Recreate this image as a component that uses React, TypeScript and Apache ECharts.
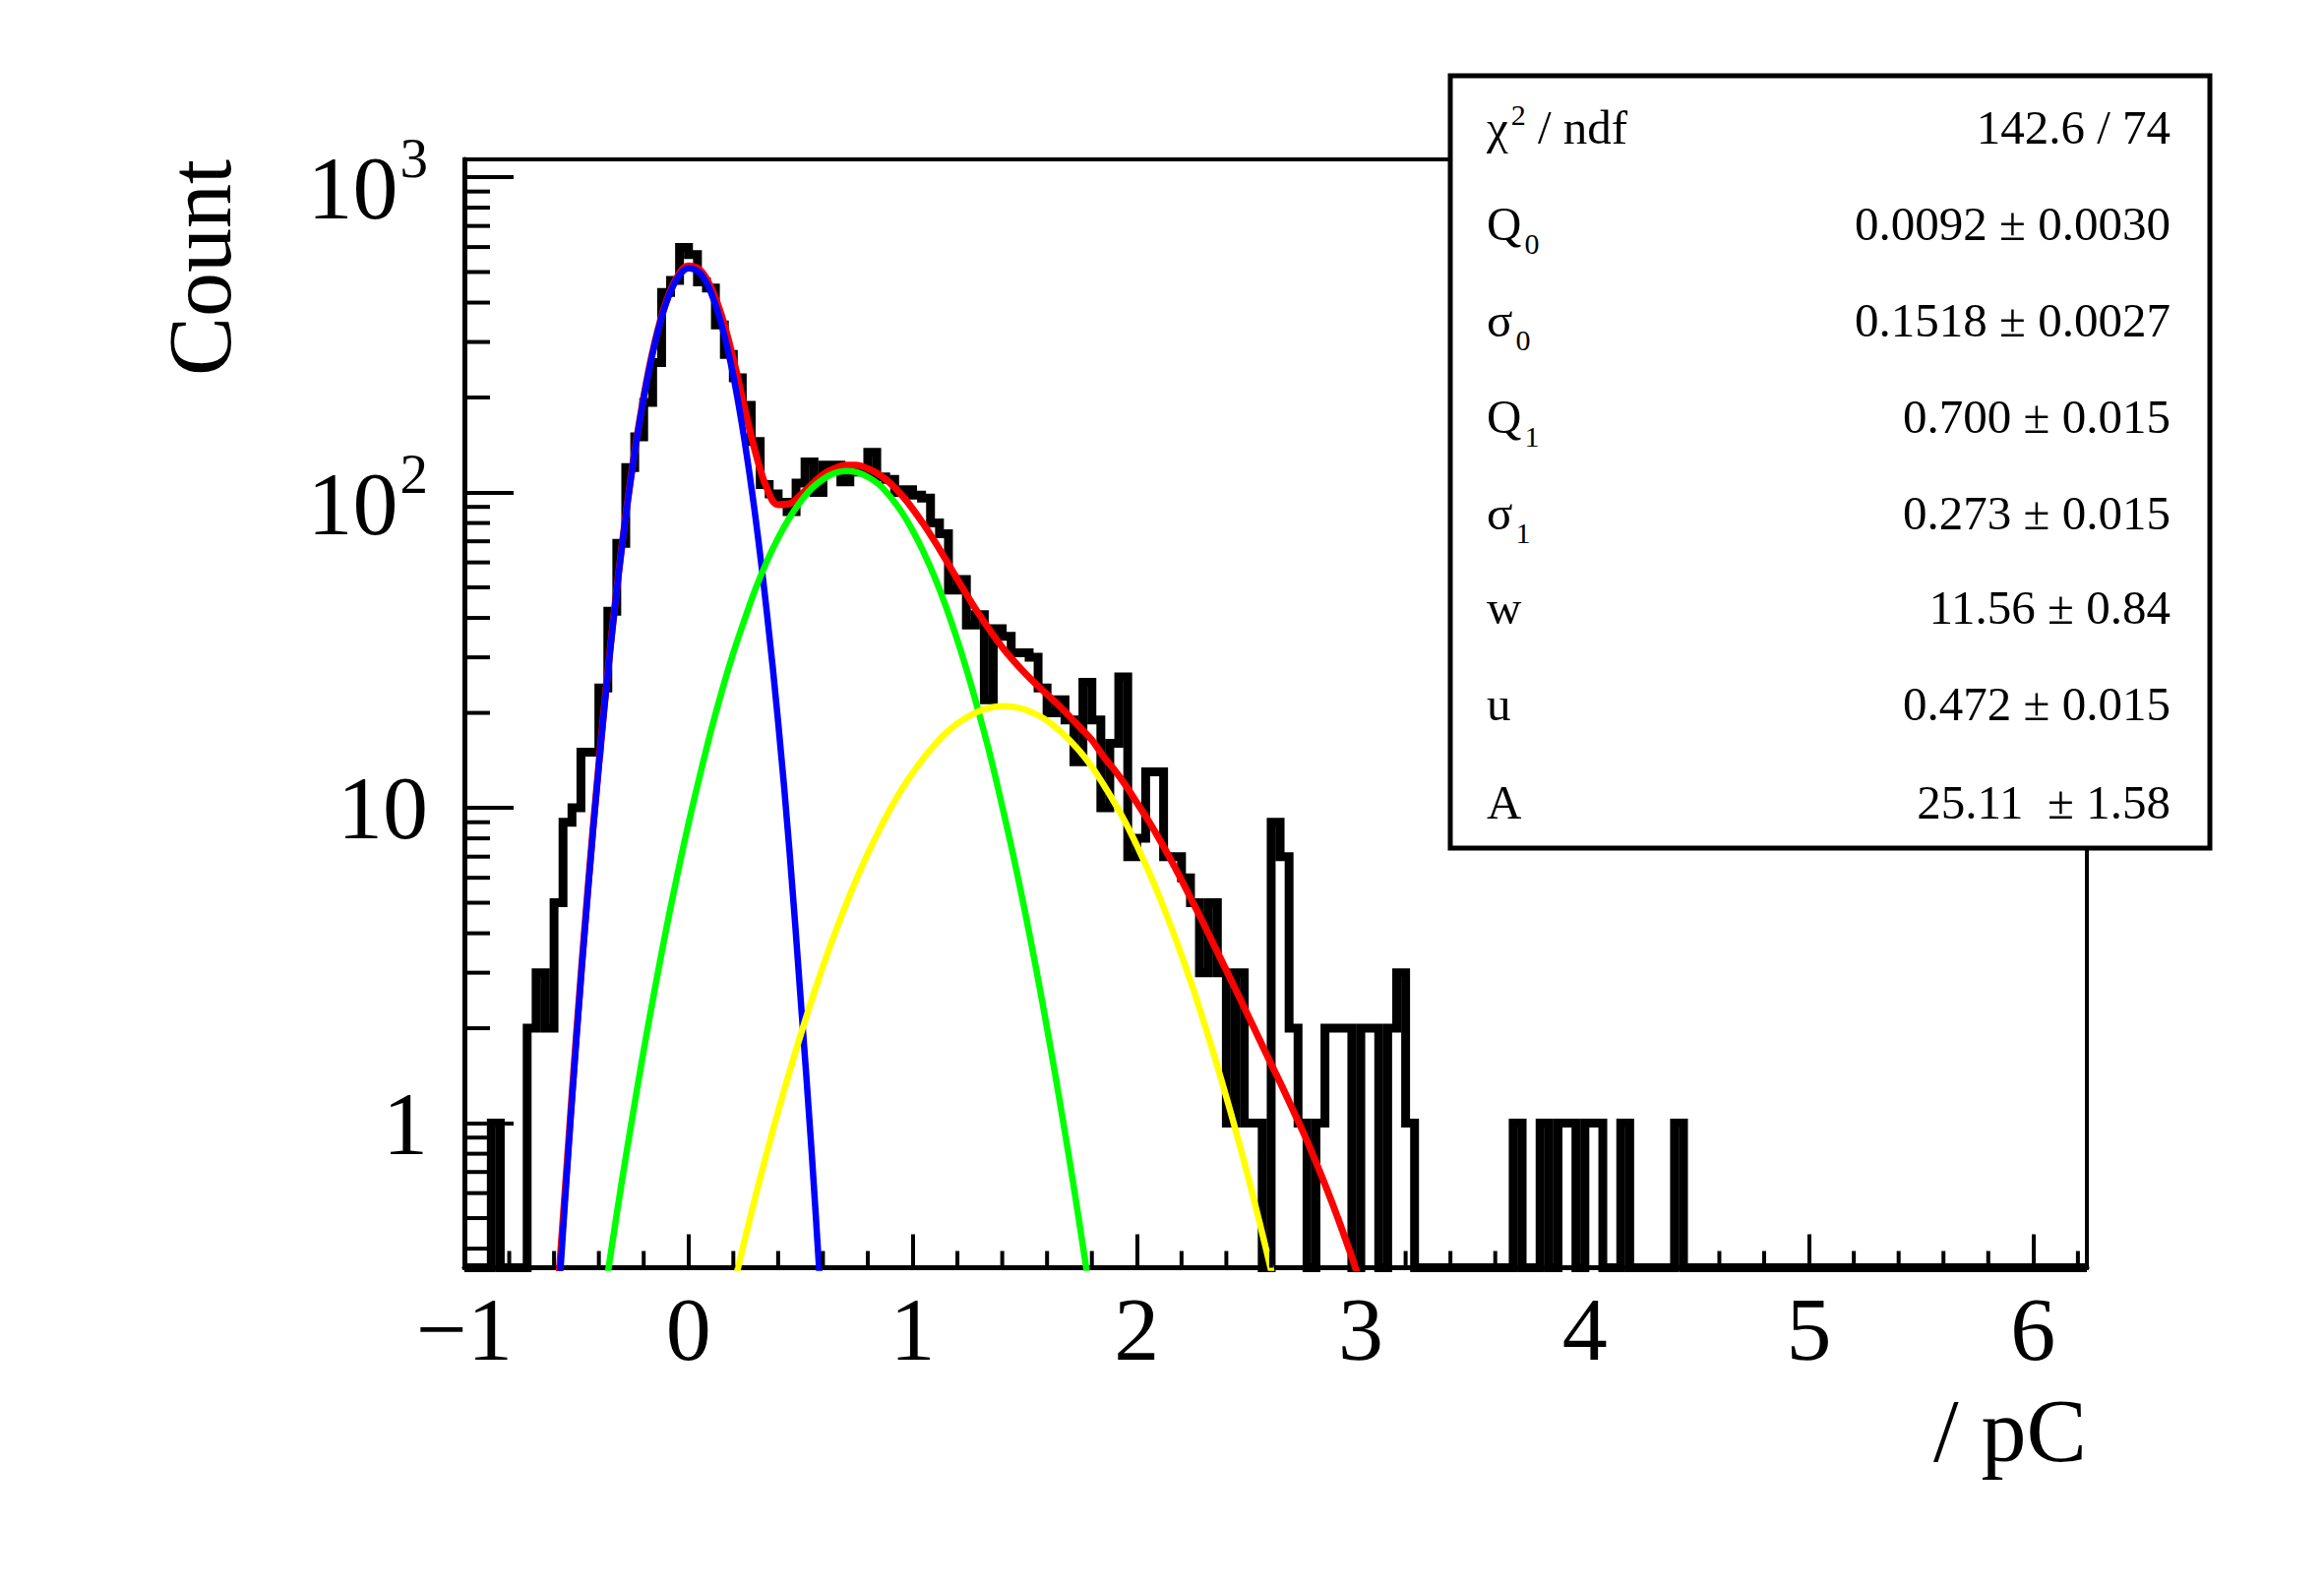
import React, { useEffect, useRef } from 'react';
import * as echarts from 'echarts';

const FONT = 'Liberation Serif, DejaVu Serif, serif';

// Axis ranges
const X_MIN = -1;
const X_MAX = 6.24;
const Y_MIN = 0.348;
const Y_MAX = 1138;
const BIN_WIDTH = 0.04;

// Histogram counts, bin k spans [X_MIN + k*BIN_WIDTH, X_MIN + (k+1)*BIN_WIDTH]
const COUNTS = [
  0, 0, 0, 1, 0, 0, 0, 2, 3, 2,
  5, 9, 10, 15, 15, 24, 42, 69, 120, 150,
  193, 258, 431, 470, 598, 568, 465, 445, 340, 274,
  231, 189, 145, 106, 99, 93, 87, 107, 125, 100,
  122, 122, 108, 118, 116, 134, 112, 110, 100, 102,
  98, 96, 80, 74, 49, 53, 38, 41, 22, 37,
  35, 31, 31, 30, 24, 20, 22, 19, 14, 25,
  19, 10, 16, 26, 7, 8, 13, 13, 7, 7,
  6, 5, 3, 5, 3, 1, 3, 1, 1, 0,
  9, 7, 2, 1, 0, 1, 2, 2, 2, 0,
  2, 2, 0, 2, 3, 1, 0, 0, 0, 0,
  0, 0, 0, 0, 0, 0, 0, 1, 0, 0,
  1, 0, 1, 1, 0, 1, 1, 0, 0, 1,
  0, 0, 0, 0, 0, 1, 0, 0, 0, 0,
  0, 0, 0, 0, 0, 0, 0, 0, 0, 0,
  0, 0, 0, 0, 0, 0, 0, 0, 0, 0,
  0, 0, 0, 0, 0, 0, 0, 0, 0, 0,
  0, 0, 0, 0, 0, 0, 0, 0, 0, 0,
  0,
];

// Fit curves: [x, count]
const RED_CURVE = [
  [-0.6, 0.2], [-0.55, 0.62], [-0.5, 1.92], [-0.45, 5.41], [-0.4, 13.8], [-0.35, 31.7],
  [-0.3, 65.3], [-0.25, 121], [-0.2, 201], [-0.15, 300], [-0.1, 402], [-0.05, 483],
  [0, 523], [0.05, 509], [0.1, 448], [0.15, 359], [0.2, 265], [0.25, 186], [0.3, 133],
  [0.35, 103], [0.4, 91.5], [0.45, 92.1], [0.5, 98.2], [0.55, 106], [0.6, 114], [0.65, 119],
  [0.7, 122], [0.75, 122], [0.8, 119], [0.85, 114], [0.9, 107], [0.95, 98.3], [1.0, 88.8],
  [1.05, 79.1], [1.1, 69.7], [1.15, 60.9], [1.2, 53.0], [1.25, 46.3], [1.3, 40.7], [1.35, 36.1],
  [1.4, 32.3], [1.45, 29.3], [1.5, 26.8], [1.55, 24.7], [1.6, 22.9], [1.65, 21.2], [1.7, 19.5],
  [1.75, 17.9], [1.8, 16.4], [1.85, 14.6], [1.9, 13.2], [1.95, 11.8], [2.0, 10.4], [2.05, 9.16],
  [2.1, 7.98], [2.15, 6.89], [2.2, 5.9], [2.25, 5.02], [2.3, 4.27], [2.35, 3.61], [2.4, 3.05],
  [2.45, 2.58], [2.5, 2.17], [2.55, 1.83], [2.6, 1.54], [2.65, 1.3], [2.7, 1.09], [2.75, 0.912],
  [2.8, 0.752], [2.85, 0.614], [2.9, 0.495], [2.95, 0.394], [3.0, 0.309], [3.05, 0.24],
];

const BLUE_CURVE = [
  [-0.6, 0.164], [-0.55, 0.582], [-0.5, 1.86], [-0.45, 5.3], [-0.4, 13.6], [-0.35, 31.3],
  [-0.3, 64.7], [-0.25, 120], [-0.2, 199], [-0.15, 297], [-0.1, 398], [-0.05, 477],
  [0, 514], [0.05, 497], [0.1, 431], [0.15, 335], [0.2, 234], [0.25, 146], [0.3, 82.2],
  [0.35, 41.4], [0.4, 18.7], [0.45, 7.4], [0.5, 2.5], [0.55, 0.8], [0.6, 0.22],
];

const GREEN_CURVE = [
  [-0.4, 0.215], [-0.35, 0.374], [-0.3, 0.636], [-0.25, 1.05], [-0.2, 1.7], [-0.15, 2.67],
  [-0.1, 4.1], [-0.05, 6.12], [0, 8.91], [0.05, 12.6], [0.1, 17.5], [0.15, 23.6], [0.2, 31.0],
  [0.25, 39.5], [0.3, 49.7], [0.35, 60.5], [0.4, 71.7], [0.45, 83.0], [0.5, 93.5], [0.55, 103],
  [0.6, 110], [0.65, 115], [0.7, 117], [0.75, 116], [0.8, 112], [0.85, 106], [0.9, 97.0],
  [0.95, 86.9], [1.0, 75.8], [1.05, 64.5], [1.1, 53.5], [1.15, 43.2], [1.2, 34.0], [1.25, 26.1],
  [1.3, 19.5], [1.35, 14.3], [1.4, 10.1], [1.45, 7.02], [1.5, 4.74], [1.55, 3.12], [1.6, 2.0],
  [1.65, 1.25], [1.7, 0.764], [1.75, 0.454], [1.8, 0.263],
];

const YELLOW_CURVE = [
  [0.2, 0.301], [0.25, 0.424], [0.3, 0.59], [0.35, 0.808], [0.4, 1.09], [0.45, 1.45],
  [0.5, 1.9], [0.55, 2.46], [0.6, 3.14], [0.65, 3.94], [0.7, 4.88], [0.75, 5.95], [0.8, 7.15],
  [0.85, 8.47], [0.9, 9.9], [0.95, 11.4], [1.0, 12.9], [1.05, 14.4], [1.1, 15.9], [1.15, 17.3],
  [1.2, 18.5], [1.25, 19.5], [1.3, 20.3], [1.35, 20.8], [1.4, 21.0], [1.45, 20.9], [1.5, 20.5],
  [1.55, 19.8], [1.6, 18.9], [1.65, 17.7], [1.7, 16.4], [1.75, 15.0], [1.8, 13.5], [1.85, 11.9],
  [1.9, 10.4], [1.95, 8.98], [2.0, 7.61], [2.05, 6.37], [2.1, 5.25], [2.15, 4.26], [2.2, 3.41],
  [2.25, 2.69], [2.3, 2.09], [2.35, 1.6], [2.4, 1.21], [2.45, 0.902], [2.5, 0.662], [2.55, 0.479],
  [2.6, 0.341], [2.65, 0.24],
];

// Minor tick positions
const X_MINOR_TICKS = [
  -0.8, -0.6, -0.4, -0.2, 0.2, 0.4, 0.6, 0.8, 1.2, 1.4, 1.6, 1.8, 2.2, 2.4, 2.6, 2.8,
  3.2, 3.4, 3.6, 3.8, 4.2, 4.4, 4.6, 4.8, 5.2, 5.4, 5.6, 5.8, 6.2,
];
const Y_MINOR_TICKS = [
  0.4, 0.5, 0.6, 0.7, 0.8, 0.9, 2, 3, 4, 5, 6, 7, 8, 9,
  20, 30, 40, 50, 60, 70, 80, 90, 200, 300, 400, 500, 600, 700, 800, 900,
];

// Statistics box
const STAT_LABELS = [
  '{m|\u03c7}{sup|2}{m| / ndf}',
  '{m|Q}{sub|0}',
  '{m|\u03c3}{sub|0}',
  '{m|Q}{sub|1}',
  '{m|\u03c3}{sub|1}',
  '{m|w}',
  '{m|u}',
  '{m|A}',
];
const STAT_VALUES = [
  '142.6 / 74',
  '0.0092 \u00b1 0.0030',
  '0.1518 \u00b1 0.0027',
  '0.700 \u00b1 0.015',
  '0.273 \u00b1 0.015',
  '11.56 \u00b1 0.84',
  '0.472 \u00b1 0.015',
  '25.11  \u00b1 1.58',
];
const STAT_ROW_Y = [129, 227, 325, 423, 521, 617, 715, 815];

const X_TITLE = '/ pC';
const Y_TITLE = 'Count';

function buildOption() {
  const histData: number[][] = COUNTS.map((c, i) => [
    Math.round((X_MIN + i * BIN_WIDTH) * 100) / 100,
    c > 0 ? c : Y_MIN,
  ]);
  const last = COUNTS[COUNTS.length - 1];
  histData.push([X_MAX, last > 0 ? last : Y_MIN]);

  const tickData = [
    ...X_MINOR_TICKS.map((v) => [v, Y_MIN, 0]),
    ...Y_MINOR_TICKS.map((v) => [X_MIN, v, 1]),
  ];

  const curve = (data: number[][], color: string, width: number, z: number) => ({
    type: 'line',
    data,
    smooth: 0.4,
    symbol: 'none',
    showSymbol: false,
    clip: true,
    silent: true,
    z,
    lineStyle: { color, width },
  });

  const statElems: any[] = [
    {
      type: 'rect',
      shape: { x: 1474, y: 77, width: 772, height: 785 },
      style: { fill: '#fff', stroke: '#000', lineWidth: 5 },
      z: 100,
    },
  ];
  const richStat = {
    m: { fontSize: 49, fontFamily: FONT, fill: '#000', lineHeight: 49 },
    sub: { fontSize: 30, fontFamily: FONT, fill: '#000', lineHeight: 49, padding: [40, 0, 0, 3] },
    sup: { fontSize: 30, fontFamily: FONT, fill: '#000', lineHeight: 49, padding: [0, 0, 26, 3] },
  };
  STAT_LABELS.forEach((lab, i) => {
    statElems.push({
      type: 'text',
      z: 101,
      style: {
        text: lab,
        x: 1511,
        y: STAT_ROW_Y[i],
        align: 'left',
        verticalAlign: 'middle',
        fill: '#000',
        fontSize: 49,
        fontFamily: FONT,
        rich: richStat,
      },
    });
    statElems.push({
      type: 'text',
      z: 101,
      style: {
        text: STAT_VALUES[i],
        x: 2206,
        y: STAT_ROW_Y[i],
        align: 'right',
        verticalAlign: 'middle',
        fill: '#000',
        fontSize: 49,
        fontFamily: FONT,
      },
    });
  });

  return {
    animation: false,
    backgroundColor: '#fff',
    grid: {
      left: 472,
      top: 162,
      width: 1649,
      height: 1126.5,
      show: true,
      borderColor: '#000',
      borderWidth: 4,
      backgroundColor: 'transparent',
    },
    xAxis: {
      type: 'value',
      min: X_MIN,
      max: X_MAX,
      interval: 1,
      axisLine: { show: true, onZero: false, lineStyle: { color: '#000', width: 5 } },
      axisTick: { show: true, inside: true, length: 34, lineStyle: { color: '#000', width: 4 } },
      minorTick: { show: false },
      splitLine: { show: false },
      axisLabel: {
        margin: 16,
        color: '#000',
        fontSize: 92,
        lineHeight: 92,
        fontFamily: FONT,
        formatter: (v: number) => {
          const r = Math.round(v);
          if (Math.abs(v - r) > 1e-9) return '';
          return r < 0 ? '\u2212' + Math.abs(r) : String(r);
        },
      },
    },
    yAxis: {
      type: 'log',
      logBase: 10,
      min: Y_MIN,
      max: Y_MAX,
      axisLine: { show: true, onZero: false, lineStyle: { color: '#000', width: 5 } },
      axisTick: { show: true, inside: true, length: 50, lineStyle: { color: '#000', width: 4 } },
      splitLine: { show: false },
      axisLabel: {
        margin: 37,
        color: '#000',
        fontFamily: FONT,
        formatter: (v: number) => {
          const e = Math.log10(v);
          const r = Math.round(e);
          if (Math.abs(e - r) > 1e-6) return '';
          if (r === 0) return '{n|1}';
          if (r === 1) return '{n|10}';
          return '{b|10}{s|' + r + '}';
        },
        rich: {
          n: { fontSize: 92, fontFamily: FONT, color: '#000', lineHeight: 92 },
          b: { fontSize: 92, fontFamily: FONT, color: '#000', lineHeight: 92, padding: [23, 0, 0, 0] },
          s: { fontSize: 57, fontFamily: FONT, color: '#000', lineHeight: 92, padding: [0, 0, 38, 2] },
        },
      },
    },
    series: [
      {
        type: 'line',
        data: histData,
        step: 'end',
        symbol: 'none',
        showSymbol: false,
        clip: false,
        silent: true,
        z: 2,
        lineStyle: { color: '#000', width: 9, join: 'miter', cap: 'butt' },
      },
      curve(RED_CURVE, '#ff0000', 7, 3),
      curve(BLUE_CURVE, '#0000ff', 6.5, 4),
      curve(GREEN_CURVE, '#00ff00', 6.5, 4),
      curve(YELLOW_CURVE, '#ffff00', 6.5, 4),
      {
        type: 'custom',
        silent: true,
        z: 5,
        data: tickData,
        renderItem: (params: any, api: any) => {
          const p = api.coord([api.value(0), api.value(1)]);
          const isX = api.value(2) === 0;
          return {
            type: 'line',
            shape: isX
              ? { x1: p[0], y1: p[1], x2: p[0], y2: p[1] - 17 }
              : { x1: p[0], y1: p[1], x2: p[0] + 26, y2: p[1] },
            style: { stroke: '#000', lineWidth: 4 },
          };
        },
      },
    ],
    graphic: {
      elements: [
        {
          type: 'text',
          x: 203,
          y: 272,
          rotation: Math.PI / 2,
          style: {
            text: Y_TITLE,
            x: 0,
            y: 0,
            align: 'center',
            verticalAlign: 'middle',
            fill: '#000',
            fontSize: 90,
            fontFamily: FONT,
          },
        },
        {
          type: 'text',
          style: {
            text: X_TITLE,
            x: 2121,
            y: 1454,
            align: 'right',
            verticalAlign: 'middle',
            fill: '#000',
            fontSize: 92,
            lineHeight: 60,
            fontFamily: FONT,
          },
        },
        ...statElems,
      ],
    },
  };
}

export default function App() {
  const ref = useRef<HTMLDivElement>(null);
  useEffect(() => {
    if (!ref.current) return;
    const chart = echarts.init(ref.current, null, { renderer: 'svg' });
    chart.setOption(buildOption() as any);
    return () => chart.dispose();
  }, []);
  return (
    <div
      ref={ref}
      style={{ position: 'fixed', left: 0, top: 0, width: '2362px', height: '1612px', background: '#fff' }}
    />
  );
}
